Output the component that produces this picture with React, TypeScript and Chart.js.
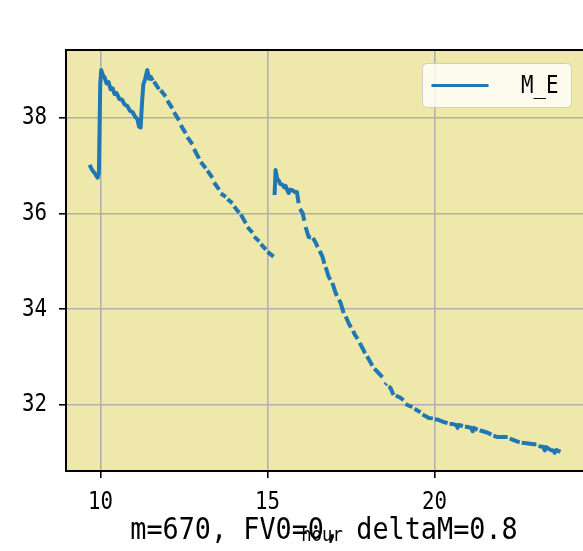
import React, { useEffect, useRef } from "react";
import { Chart, registerables } from "chart.js";
Chart.register(...registerables);

// Time (hour) of each sample; null values in meValues mark missing samples (gaps in the line)
const hours = [
  9.67, 9.76, 9.85, 9.91, 9.95, 9.99, 10.02, 10.08, 10.12, 10.18, 10.24, 10.3, 10.36, 10.42, 10.48,
  10.56, 10.64, 10.72, 10.8, 10.88, 10.96, 11.04, 11.1, 11.15, 11.2, 11.24, 11.28, 11.33, 11.4, 11.45,
  11.5, 11.56, 11.58,
  11.6, 11.75, 11.77, 11.8, 11.95, 11.97, 12.0, 12.15, 12.17, 12.2, 12.35, 12.37, 12.4, 12.55, 12.57,
  12.6, 12.75, 12.77, 12.8, 12.95, 12.97, 13.0, 13.15, 13.17, 13.2, 13.35, 13.37, 13.4, 13.55, 13.57,
  13.6, 13.75, 13.77, 13.8, 13.95, 13.97, 14.0, 14.15, 14.17, 14.2, 14.35, 14.37, 14.4, 14.55, 14.57,
  14.6, 14.75, 14.77, 14.8, 14.95, 14.97, 15.0, 15.18, 15.19,
  15.21, 15.24, 15.29, 15.33, 15.38, 15.45, 15.5, 15.54, 15.6, 15.63, 15.68, 15.75, 15.82, 15.88, 15.93, 15.95,
  15.97, 16.05, 16.1, 16.12, 16.14, 16.23, 16.3, 16.33, 16.36, 16.45, 16.5, 16.53, 16.56, 16.65, 16.7, 16.72,
  16.74, 16.83, 16.88, 16.91, 16.94, 17.04, 17.08, 17.11, 17.14, 17.19, 17.28, 17.31, 17.34, 17.43, 17.5, 17.53,
  17.56, 17.62, 17.7, 17.73, 17.76, 17.87, 17.92, 17.95, 17.98, 18.06, 18.14, 18.17, 18.2, 18.32, 18.44, 18.48,
  18.52, 18.56, 18.59, 18.62, 18.68, 18.77, 18.8, 18.84, 18.98, 19.07, 19.1, 19.13, 19.25, 19.34, 19.37,
  19.4, 19.5, 19.58, 19.61, 19.64, 19.75, 19.82, 19.95, 19.98, 20.01, 20.12, 20.25, 20.39, 20.42,
  20.45, 20.55, 20.66, 20.69, 20.72, 20.85, 20.88, 20.91, 20.99, 21.1, 21.14, 21.18, 21.29, 21.32,
  21.35, 21.45, 21.59, 21.7, 21.73, 21.76, 21.89, 22.05, 22.19, 22.22, 22.25, 22.35, 22.43, 22.55, 22.58,
  22.61, 22.75, 22.96, 23.05, 23.08, 23.11, 23.26, 23.3, 23.34, 23.47, 23.55, 23.6, 23.65, 23.77,
];

const meValues = [
  37.02, 36.9, 36.82, 36.75, 36.85, 38.7, 39.0, 38.88, 38.85, 38.72, 38.75, 38.6, 38.62, 38.5, 38.52,
  38.4, 38.38, 38.28, 38.25, 38.15, 38.12, 38.02, 37.98, 37.82, 37.8, 38.3, 38.7, 38.8, 39.0, 38.82,
  38.86, 38.78, null,
  38.76, 38.6, null, 38.58, 38.45, null, 38.36, 38.2, null, 38.12, 37.95, null, 37.85, 37.68, null,
  37.6, 37.45, null, 37.35, 37.15, null, 37.08, 36.95, null, 36.9, 36.75, null, 36.65, 36.5, null,
  36.42, 36.35, null, 36.3, 36.22, null, 36.15, 36.02, null, 35.98, 35.8, null, 35.72, 35.6, null,
  35.52, 35.42, null, 35.36, 35.25, null, 35.2, 35.1, null,
  36.39, 36.91, 36.72, 36.7, 36.62, 36.6, 36.55, 36.58, 36.48, 36.43, 36.5, 36.49, 36.45, 36.45, 36.22, null,
  36.1, 36.01, 35.85, null, 35.72, 35.51, 35.5, null, 35.49, 35.38, 35.3, null, 35.22, 35.09, 34.95, null,
  34.88, 34.68, 34.62, null, 34.55, 34.34, 34.28, null, 34.2, 34.13, 33.92, null, 33.85, 33.71, 33.62, null,
  33.55, 33.46, 33.38, null, 33.3, 33.15, 33.08, null, 33.02, 32.92, 32.82, null, 32.76, 32.67, 32.58, null,
  32.42, 32.45, null, 32.38, 32.36, 32.21, null, 32.2, 32.15, 32.1, null, 32.02, 31.98, 31.96, null,
  31.92, 31.88, 31.85, null, 31.8, 31.76, 31.73, 31.72, null, 31.7, 31.69, 31.65, 31.62, null,
  31.6, 31.6, 31.58, 31.52, 31.58, 31.56, null, 31.55, 31.54, 31.52, 31.45, 31.52, 31.48, null,
  31.47, 31.45, 31.42, 31.38, null, 31.36, 31.33, 31.33, 31.33, null, 31.3, 31.27, 31.25, 31.22, null,
  31.21, 31.2, 31.18, 31.18, null, 31.14, 31.12, 31.05, 31.12, 31.06, 31.05, 31.0, 31.06, 31.02,
];

const xTicks = [10, 15, 20];
const yTicks = [32, 34, 36, 38];
const seriesLabel = "M_E";
const chartTitle = "m=670, FV0=0, deltaM=0.8";
const xLabel = "hour";

const FONT = '"DejaVu Sans Mono", "Liberation Mono", monospace';
const SQUEEZE = 0.865; // horizontal condensing to mimic a tall, narrow CJK-style Latin face
const LINE_COLOR = "#1f77b4";

function drawText(
  ctx: CanvasRenderingContext2D,
  text: string,
  x: number,
  y: number,
  size: number,
  align: CanvasTextAlign
) {
  ctx.save();
  ctx.translate(x, y);
  ctx.scale(SQUEEZE, 1);
  ctx.font = `${size}px ${FONT}`;
  ctx.textAlign = align;
  ctx.textBaseline = "middle";
  ctx.fillStyle = "#000000";
  ctx.fillText(text, 0, 0);
  ctx.restore();
}

export default function App() {
  const ref = useRef<HTMLCanvasElement>(null);

  useEffect(() => {
    document.body.style.margin = "0";
    const canvas = ref.current;
    if (!canvas) return;

    const decor = {
      id: "decor",
      beforeDraw(chart: any) {
        const { ctx, chartArea: a } = chart;
        ctx.save();
        ctx.fillStyle = "#ffffff";
        ctx.fillRect(0, 0, chart.width, chart.height);
        ctx.fillStyle = "#eee8aa";
        ctx.fillRect(a.left, a.top, a.right - a.left, a.bottom - a.top);
        ctx.restore();
      },
      afterDatasetsDraw(chart: any) {
        const { ctx, chartArea: a } = chart;
        const xs = chart.scales.x;
        const ys = chart.scales.y;
        ctx.save();
        // frame
        ctx.strokeStyle = "#000000";
        ctx.lineWidth = 2;
        ctx.strokeRect(a.left, a.top, a.right - a.left, a.bottom - a.top);

        // tick labels
        xTicks.forEach((v) => drawText(ctx, String(v), xs.getPixelForValue(v), a.bottom + 32, 24, "center"));
        yTicks.forEach((v) => drawText(ctx, String(v), a.left - 19, ys.getPixelForValue(v), 24, "right"));

        // legend
        const bw = 149, bh = 44;
        const bx = a.right - 13 - bw + 0.5, by = a.top + 13 + 0.5;
        const r = 5;
        ctx.beginPath();
        ctx.moveTo(bx + r, by);
        ctx.lineTo(bx + bw - r, by);
        ctx.quadraticCurveTo(bx + bw, by, bx + bw, by + r);
        ctx.lineTo(bx + bw, by + bh - r);
        ctx.quadraticCurveTo(bx + bw, by + bh, bx + bw - r, by + bh);
        ctx.lineTo(bx + r, by + bh);
        ctx.quadraticCurveTo(bx, by + bh, bx, by + bh - r);
        ctx.lineTo(bx, by + r);
        ctx.quadraticCurveTo(bx, by, bx + r, by);
        ctx.closePath();
        ctx.fillStyle = "rgba(255,255,255,0.8)";
        ctx.fill();
        ctx.strokeStyle = "#cccccc";
        ctx.lineWidth = 1;
        ctx.stroke();
        const ly = by + bh / 2;
        ctx.beginPath();
        ctx.moveTo(bx + 9, ly);
        ctx.lineTo(bx + 66, ly);
        ctx.strokeStyle = LINE_COLOR;
        ctx.lineWidth = 3;
        ctx.stroke();
        drawText(ctx, chart.data.datasets[0].label, bx + bw - 13, ly + 1, 24, "right");

        // x label and bottom title (they overlap in the original)
        const cx = (a.left + a.right) / 2;
        drawText(ctx, xLabel, cx - 3, a.bottom + 65, 20, "center");
        drawText(ctx, chartTitle, cx - 1, a.bottom + 60, 31, "center");
        ctx.restore();
      },
    };

    const chart = new Chart(canvas, {
      type: "line",
      data: {
        datasets: [
          {
            label: seriesLabel,
            data: hours.map((h, i) => ({ x: h, y: meValues[i] })),
            borderColor: LINE_COLOR,
            backgroundColor: LINE_COLOR,
            borderWidth: 4,
            borderCapStyle: "butt",
            borderJoinStyle: "round",
            pointRadius: 0,
            tension: 0,
            spanGaps: false,
          } as any,
        ],
      },
      options: {
        responsive: false,
        animation: false,
        devicePixelRatio: 1,
        layout: { padding: { top: 50, left: 0, right: 6, bottom: 0 } },
        plugins: { legend: { display: false }, title: { display: false }, tooltip: { enabled: false } },
        scales: {
          x: {
            type: "linear",
            min: 8.965,
            max: 24.475,
            afterBuildTicks: (s: any) => {
              s.ticks = xTicks.map((v) => ({ value: v }));
            },
            afterFit: (s: any) => {
              s.height = 80;
            },
            grid: { color: "#b0b0b0", lineWidth: 1.6, tickColor: "#000000", tickLength: 7, tickWidth: 1.6 },
            border: { display: false },
            ticks: { display: false },
          },
          y: {
            type: "linear",
            min: 30.62,
            max: 39.42,
            afterBuildTicks: (s: any) => {
              s.ticks = yTicks.map((v) => ({ value: v }));
            },
            afterFit: (s: any) => {
              s.width = 66;
            },
            grid: { color: "#b0b0b0", lineWidth: 1.6, tickColor: "#000000", tickLength: 7, tickWidth: 1.6 },
            border: { display: false },
            ticks: { display: false },
          },
        },
      },
      plugins: [decor],
    });
    return () => chart.destroy();
  }, []);

  return (
    <div style={{ position: "absolute", left: 0, top: 0, width: 583, height: 551, overflow: "hidden" }}>
      <canvas ref={ref} width={590} height={551} style={{ display: "block" }} />
    </div>
  );
}
